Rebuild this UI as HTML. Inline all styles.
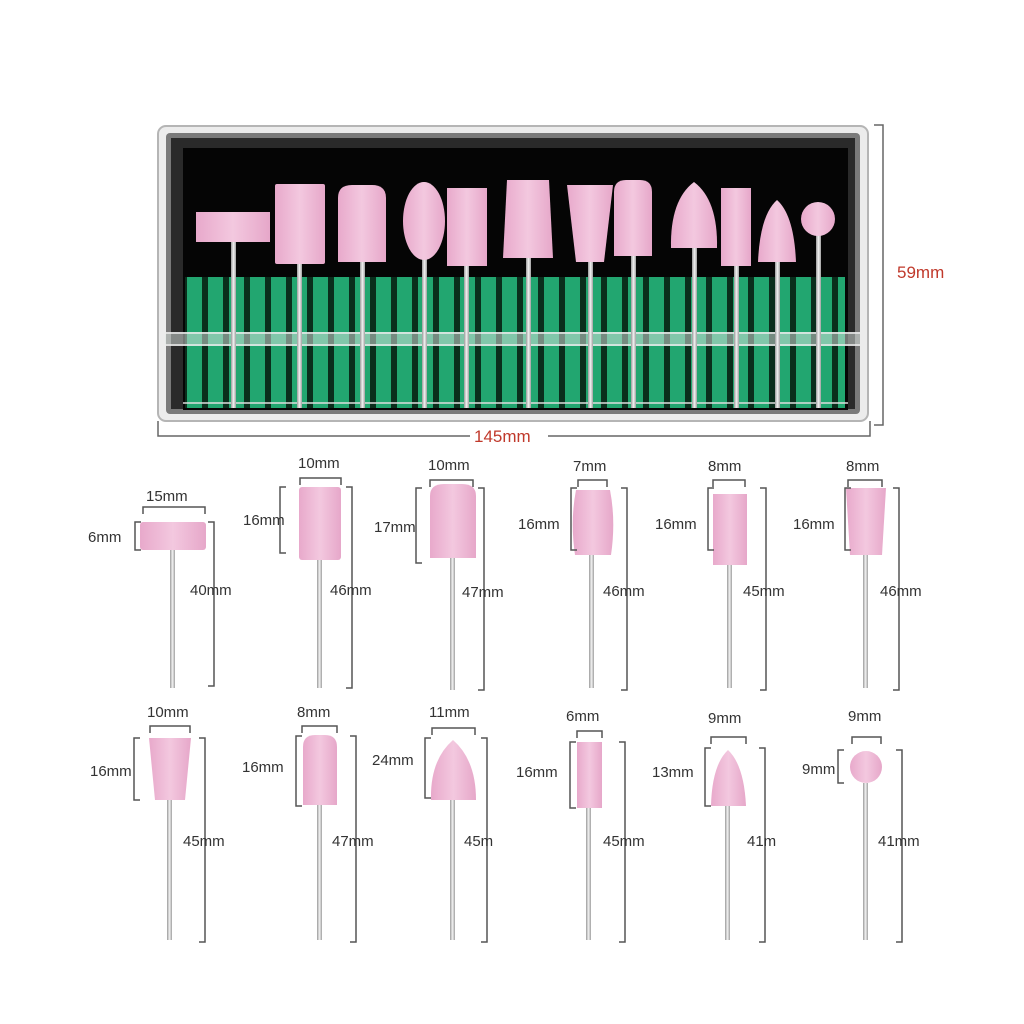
<!DOCTYPE html>
<html><head><meta charset="utf-8"><style>
body{margin:0;background:#fff}
svg{display:block}
text{font-family:"Liberation Sans",sans-serif;font-size:15px;fill:#333}
</style></head><body>
<svg width="1024" height="1024" viewBox="0 0 1024 1024" xmlns="http://www.w3.org/2000/svg">
<defs>
<linearGradient id="sh" x1="0" x2="1"><stop offset="0" stop-color="#9a9a9a"/><stop offset=".5" stop-color="#f2f2f2"/><stop offset="1" stop-color="#a0a0a0"/></linearGradient>
<linearGradient id="pk" x1="0" x2="1"><stop offset="0" stop-color="#e8a9cb"/><stop offset=".5" stop-color="#f3c8df"/><stop offset="1" stop-color="#e6a7c9"/></linearGradient>
<pattern id="st" x="187" y="0" width="21" height="10" patternUnits="userSpaceOnUse"><rect width="21" height="10" fill="#0a2e1c"/><rect x="0" width="15" height="10" fill="#22a670"/></pattern>
</defs>
<rect width="1024" height="1024" fill="#fff"/>
<!-- box -->
<rect x="158" y="126" width="710" height="295" rx="8" fill="#ececec" stroke="#b5b5b5" stroke-width="2"/>
<rect x="166" y="133" width="694" height="281" rx="4" fill="#7a7a7a"/>
<rect x="171" y="138" width="684" height="271" fill="#2a2a2a"/>
<rect x="183" y="148" width="665" height="262" fill="#050505"/>
<rect x="185" y="277" width="660" height="131" fill="url(#st)"/>
<rect x="165" y="332" width="695" height="14" fill="#dfe8e4" opacity=".5"/>
<line x1="165" y1="333" x2="860" y2="333" stroke="#eee" stroke-width="1.5"/>
<line x1="165" y1="345" x2="860" y2="345" stroke="#eee" stroke-width="1.5"/>
<line x1="183" y1="403" x2="848" y2="403" stroke="#ddd" stroke-width="1.5"/>
<g fill="url(#sh)">
<rect x="231" y="242" width="5" height="166"/><rect x="297" y="262" width="5" height="146"/>
<rect x="360" y="260" width="5" height="148"/><rect x="422" y="258" width="5" height="150"/>
<rect x="464" y="264" width="5" height="144"/><rect x="526" y="256" width="5" height="152"/>
<rect x="588" y="260" width="5" height="148"/><rect x="631" y="254" width="5" height="154"/>
<rect x="692" y="246" width="5" height="162"/><rect x="734" y="264" width="5" height="144"/>
<rect x="775" y="260" width="5" height="148"/><rect x="816" y="233" width="5" height="175"/>
</g>
<g fill="url(#pk)">
<rect x="196" y="212" width="74" height="30"/>
<rect x="275" y="184" width="50" height="80" rx="2"/>
<path d="M338 262V198Q338 185 352 185H372Q386 185 386 198V262Z"/>
<ellipse cx="424" cy="221" rx="21" ry="39"/>
<rect x="447" y="188" width="40" height="78"/>
<path d="M503 258L507 180H549L553 258Z"/>
<path d="M567 185H613L604 262H576Z"/>
<path d="M614 256V192Q614 180 626 180H640Q652 180 652 192V256Z"/>
<path d="M671 248Q670 200 694 182Q718 200 717 248Z"/>
<rect x="721" y="188" width="30" height="78"/>
<path d="M758 262Q760 215 777 200Q794 215 796 262Z"/>
<circle cx="818" cy="219" r="17"/>
</g>
<!-- overall dims -->
<g stroke="#666" stroke-width="1.5" fill="none">
<path d="M874 125H883V425H874"/>
<path d="M158 421V436H470M548 436H870V421"/>
</g>
<text x="897" y="278" style="font-size:17px;fill:#c0392b">59mm</text>
<text x="474" y="442" style="font-size:17px;fill:#c0392b">145mm</text>

<g fill="url(#sh)">
<rect x="170" y="550" width="5" height="138"/><rect x="317" y="560" width="5" height="128"/>
<rect x="450" y="558" width="5" height="132"/><rect x="589" y="555" width="5" height="133"/>
<rect x="727" y="565" width="5" height="123"/><rect x="863" y="555" width="5" height="133"/>
<rect x="167" y="800" width="5" height="140"/><rect x="317" y="805" width="5" height="135"/>
<rect x="450" y="800" width="5" height="140"/><rect x="586" y="808" width="5" height="132"/>
<rect x="725" y="806" width="5" height="134"/><rect x="863" y="783" width="5" height="157"/>
</g>
<g fill="url(#pk)">
<rect x="140" y="522" width="66" height="28" rx="3"/>
<rect x="299" y="487" width="42" height="73" rx="3"/>
<path d="M430 558V496Q430 484 444 484H462Q476 484 476 496V558Z"/>
<path d="M575 555Q570 521 576 490H610Q616 521 611 555Z"/>
<rect x="713" y="494" width="34" height="71"/>
<path d="M846 488H886L882 555H850Z"/>
<path d="M149 738H191L185 800H155Z"/>
<path d="M303 805V747Q303 735 315 735H325Q337 735 337 747V805Z"/>
<path d="M431 800Q430 760 453 740Q476 760 476 800Z"/>
<rect x="577" y="742" width="25" height="66"/>
<path d="M711 806Q712 765 728 750Q744 765 746 806Z"/>
<circle cx="866" cy="767" r="16"/>
</g>
<g stroke="#555" stroke-width="1.5" fill="none">
<path d="M143 514V507H205V514"/><path d="M141 522H135V550H141"/><path d="M208 522H214V686H208"/>
<path d="M300 485V478H341V485"/><path d="M286 487H280V553H286"/><path d="M346 487H352V688H346"/>
<path d="M430 487V480H473V487"/><path d="M422 488H416V563H422"/><path d="M478 488H484V690H478"/>
<path d="M578 487V480H607V487"/><path d="M577 488H571V550H577"/><path d="M621 488H627V690H621"/>
<path d="M713 487V480H745V487"/><path d="M714 488H708V550H714"/><path d="M760 488H766V690H760"/>
<path d="M848 487V480H882V487"/><path d="M851 488H845V550H851"/><path d="M893 488H899V690H893"/>
<path d="M150 733V726H190V733"/><path d="M140 738H134V800H140"/><path d="M199 738H205V942H199"/>
<path d="M302 733V726H337V733"/><path d="M302 736H296V806H302"/><path d="M350 736H356V942H350"/>
<path d="M432 735V728H475V735"/><path d="M431 738H425V798H431"/><path d="M481 738H487V942H481"/>
<path d="M577 738V731H602V738"/><path d="M576 742H570V808H576"/><path d="M619 742H625V942H619"/>
<path d="M711 744V737H746V744"/><path d="M711 748H705V806H711"/><path d="M759 748H765V942H759"/>
<path d="M852 744V737H881V744"/><path d="M844 750H838V783H844"/><path d="M896 750H902V942H896"/>
</g>
<g>
<text x="146" y="501">15mm</text><text x="88" y="542">6mm</text><text x="190" y="595">40mm</text>
<text x="298" y="468">10mm</text><text x="243" y="525">16mm</text><text x="330" y="595">46mm</text>
<text x="428" y="470">10mm</text><text x="374" y="532">17mm</text><text x="462" y="597">47mm</text>
<text x="573" y="471">7mm</text><text x="518" y="529">16mm</text><text x="603" y="596">46mm</text>
<text x="708" y="471">8mm</text><text x="655" y="529">16mm</text><text x="743" y="596">45mm</text>
<text x="846" y="471">8mm</text><text x="793" y="529">16mm</text><text x="880" y="596">46mm</text>
<text x="147" y="717">10mm</text><text x="90" y="776">16mm</text><text x="183" y="846">45mm</text>
<text x="297" y="717">8mm</text><text x="242" y="772">16mm</text><text x="332" y="846">47mm</text>
<text x="429" y="717">11mm</text><text x="372" y="765">24mm</text><text x="464" y="846">45m</text>
<text x="566" y="721">6mm</text><text x="516" y="777">16mm</text><text x="603" y="846">45mm</text>
<text x="708" y="723">9mm</text><text x="652" y="777">13mm</text><text x="747" y="846">41m</text>
<text x="848" y="721">9mm</text><text x="802" y="774">9mm</text><text x="878" y="846">41mm</text>
</g>
</svg>
</body></html>
